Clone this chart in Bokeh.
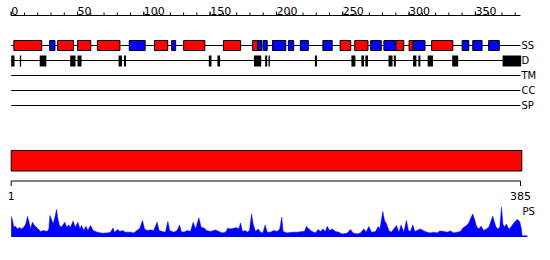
from bokeh.plotting import figure
from bokeh.models import Range1d
from bokeh.core.properties import value
from bokeh.embed import file_html
from bokeh.resources import INLINE

# ---------------- data ----------------
seq_len = 385
ruler_ticks = [0, 10, 20, 30, 40, 50, 60, 70, 80, 90, 100, 110, 120, 130, 140, 150, 160, 170, 180, 190,
               200, 210, 220, 230, 240, 250, 260, 270, 280, 290, 300, 310, 320, 330, 340, 350, 360, 370, 380]
ruler_major = [0, 50, 100, 150, 200, 250, 300, 350]
ruler_labels = ["0", "50", "100", "150", "200", "250", "300", "350"]

helix_start = [2, 35, 50, 65, 108, 130, 160, 182, 248, 259, 290, 300, 317]
helix_end = [23, 47, 60, 82, 118, 146, 173, 186, 256, 269, 296, 303, 333]
strand_start = [29, 89, 121, 186, 190, 197, 209, 218, 235, 271, 281, 303, 340, 348, 360]
strand_end = [33, 101, 124, 189, 193, 207, 213, 224, 242, 279, 290, 312, 345, 355, 368]

disorder_start = [0, 6.5, 21.5, 44.5, 50, 81, 85, 149, 155.5, 183, 191.5, 194, 229, 256.5, 264, 267,
                  284.5, 288.5, 303, 307, 314, 332.5, 370.5]
disorder_end = [2.5, 7.5, 26.5, 48.5, 53, 83.5, 86.5, 151, 157.5, 188.5, 193, 195, 230.5, 259.5, 266, 269,
                287.5, 290, 305.5, 308.5, 318, 337, 384.5]

domain_start = [1]
domain_end = [385]
bottom_ticks = [1, 385]
bottom_labels = ["1", "385"]

track_names = ["SS", "D", "TM", "CC", "SP"]

ps_pos = [0, 1, 2, 3.3, 4.5, 6.3, 7.8, 9.5, 11, 12.3, 13.6, 14.6, 16, 17.3, 18.8, 20.4, 22, 24.6, 27, 28.4,
          29.2, 30.4, 31.7, 33, 34.2, 35.2, 36.4, 37.7, 40.5, 41.7, 43.2, 44.7, 46.7, 48.3, 50.3, 51.8, 53,
          54.8, 56.3, 57.8, 59.8, 61.8, 64.8, 68.6, 72.4, 74.9, 76.7, 77.9, 80.4, 81.9, 83.7, 86.2, 90, 92.5,
          95, 97, 99, 100.5, 102.5, 105, 107.5, 110, 111.5, 113.8, 116.3, 118.1, 119.5, 122.6, 125.1, 126.9,
          128.2, 130.2, 132.7, 135.2, 137.2, 139, 141.5, 143.2, 145.7, 147.2, 150.3, 154, 156.6, 159.1, 161.6,
          163.3, 165.3, 167.9, 169.9, 171.6, 172.9, 174.4, 176.7, 177.9, 179.7, 181.2, 182.4, 184.2, 186.2,
          188, 189.7, 191.5, 193, 195.5, 198, 200.5, 202.5, 204, 205, 208.1, 211.8, 215.8, 219.4, 221.1,
          222.6, 224.4, 226.9, 229.4, 231.4, 233.2, 235, 237, 238.2, 240, 242, 244.5, 247, 249.6, 253.3,
          255.8, 257.8, 260.8, 263.4, 265.9, 267.6, 269.6, 271.7, 274.7, 276.7, 278, 280.2, 281.5, 283,
          284.7, 286.5, 288.5, 290.5, 292.3, 294, 296, 298, 299.5, 301, 302.8, 304.3, 306, 308.6, 311.1,
          313.6, 316.1, 318.6, 321.2, 323.2, 326.2, 328.7, 331.2, 333.7, 336.2, 338.8, 340, 341.3, 343.3,
          345, 346.8, 348, 349.3, 350.8, 352.5, 354.3, 356.3, 358.3, 360.1, 361.9, 363.1, 364.4, 365.6,
          366.9, 368.4, 369.7, 370.7, 371.9, 373.4, 374.4, 375.7, 377.2, 379, 380.7, 382, 383.5, 384.7, 385.2]
ps_val = [20, 15.7, 9, 10, 7.3, 8.7, 7.3, 9, 12.3, 19.7, 13.3, 7.3, 14, 11.3, 9, 7.3, 4.7, 5.7, 4.7, 7.3,
          20.7, 16.7, 12.3, 19, 26.7, 17.3, 10.7, 9, 14, 9, 11.3, 9, 15.3, 9, 14, 7.3, 10.7,
          5.7, 10, 5.7, 10.7, 5.7, 4, 3, 3.3, 4, 8.3, 4, 6.7, 4.7, 5.7, 4, 4, 3.3,
          6, 8, 15.7, 7.3, 5.7, 6.3, 5.7, 14, 5.7, 4.7, 4, 14.7, 5.7, 4, 5.7, 11.3,
          4.7, 4, 5.7, 4.7, 14, 7.3, 18.3, 9, 8, 5.7, 4.7, 6.3, 4.7, 3.3, 4,
          8, 7.3, 8, 8.7, 7.3, 13.3, 4.7, 5.7, 4, 5.7, 22.3, 12.3, 4.7, 7.3,
          4, 3.3, 11.3, 4, 4, 5.7, 4.7, 7.3, 19, 4.7, 3.3, 4, 4, 4.7, 4.7,
          9.7, 7.3, 4.7, 3.3, 6.7, 4.7, 7.3, 4.7, 10, 5.7, 7.3, 4.7, 4, 2.3, 3,
          6.7, 3.3, 2.3, 3.3, 7.3, 4, 9.7, 4, 4.7, 9.7, 7.3, 24.7, 15.7, 12.3,
          5.7, 4, 7.3, 10.7, 4, 11.3, 4, 15.7, 5.7, 4.7, 11.3, 4.7, 5.7, 7.3, 5.3,
          4, 3.3, 4, 3.3, 5.3, 4.7, 4, 5.3, 3.3, 4, 4.7, 7.3, 9, 10.7,
          13.3, 19, 22.3, 17.3, 10, 7.3, 10, 5.7, 7.3, 9, 15.7, 20, 14, 9,
          7.3, 9, 29, 12.3, 9, 12.3, 9, 7.3, 10, 13.3, 15.7, 16.7, 14, 7.3, 0]

# ---------------- layout (pixel rows) ----------------
W, H = 550, 260
px_per_res = 509.3 / 384.0
x0 = -10.7 / px_per_res
x1 = x0 + W / px_per_res

FONT = value("DejaVu Sans")
RED = "#ff0000"
BLUE = "#0000ff"

p = figure(width=W, height=H, output_backend="svg", toolbar_location=None,
           x_range=Range1d(x0, x1), y_range=Range1d(H, 0),
           min_border=0, min_border_left=0, min_border_right=0,
           min_border_top=0, min_border_bottom=0)
p.axis.visible = False
p.grid.visible = False
p.outline_line_color = None
p.background_fill_color = "white"
p.border_fill_color = "white"

# PS profile range: 0 at the baseline row, 1 unit per pixel
ps_base = 235.7
p.extra_y_ranges = {"ps": Range1d(-(H - ps_base), ps_base)}

line_end = seq_len - 1

# top ruler
ruler_y = 15
p.segment(x0=[0], y0=[ruler_y], x1=[line_end], y1=[ruler_y], line_color="black", line_width=1)
p.segment(x0=ruler_ticks, y0=[ruler_y] * len(ruler_ticks), x1=ruler_ticks,
          y1=[ruler_y - 3] * len(ruler_ticks), line_color="black", line_width=1)
p.segment(x0=ruler_major, y0=[ruler_y] * len(ruler_major), x1=ruler_major,
          y1=[ruler_y - 4] * len(ruler_major), line_color="black", line_width=1)
p.text(x=ruler_major, y=[10.5] * len(ruler_major), text=ruler_labels, text_font=FONT,
       text_font_size="11px", text_align="left", text_baseline="alphabetic", text_color="black")

# track lines
track_y = [45, 60, 75, 90, 105]
p.segment(x0=[0] * 5, y0=track_y, x1=[line_end] * 5, y1=track_y, line_color="black", line_width=1)
p.text(x=[line_end] * 5, y=track_y, text=track_names, text_font=FONT, text_font_size="10px",
       text_align="left", text_baseline="middle", text_color="black", x_offset=1)

# secondary structure boxes
p.quad(left=helix_start, right=helix_end, top=[40] * len(helix_start), bottom=[50] * len(helix_start),
       fill_color=RED, line_color="black", line_width=1)
p.quad(left=strand_start, right=strand_end, top=[40] * len(strand_start), bottom=[50] * len(strand_start),
       fill_color=BLUE, line_color="black", line_width=1)

# disorder marks
p.quad(left=disorder_start, right=disorder_end, top=[55] * len(disorder_start),
       bottom=[66] * len(disorder_start), fill_color="black", line_color=None)

# domain bar
p.quad(left=[s - 1 for s in domain_start], right=domain_end, top=[150], bottom=[170.5],
       fill_color=RED, line_color="black", line_width=1)

# bottom ruler
bt = [t - 1 for t in bottom_ticks]
p.segment(x0=[bt[0]], y0=[180.5], x1=[bt[-1]], y1=[180.5], line_color="black", line_width=1)
p.segment(x0=bt, y0=[180.5] * 2, x1=bt, y1=[185.5] * 2, line_color="black", line_width=1)
p.text(x=bt, y=[195.5] * 2, text=bottom_labels, text_font=FONT, text_font_size="11px",
       text_align="center", text_baseline="middle", text_color="black")

# PS profile
p.varea(x=ps_pos, y1=[0] * len(ps_pos), y2=ps_val, fill_color=BLUE, y_range_name="ps")
p.line(x=ps_pos, y=ps_val, line_color=BLUE, line_width=1, line_alpha=0.5, y_range_name="ps")
p.segment(x0=[ps_pos[0]], y0=[0], x1=[ps_pos[-1] + 4], y1=[0], line_color=BLUE, line_width=1.5,
          y_range_name="ps")
p.text(x=[line_end], y=[211], text=["PS"], text_font=FONT, text_font_size="10px",
       text_align="left", text_baseline="middle", text_color="black", x_offset=2)

open("out.html", "w").write(file_html(p, INLINE))
